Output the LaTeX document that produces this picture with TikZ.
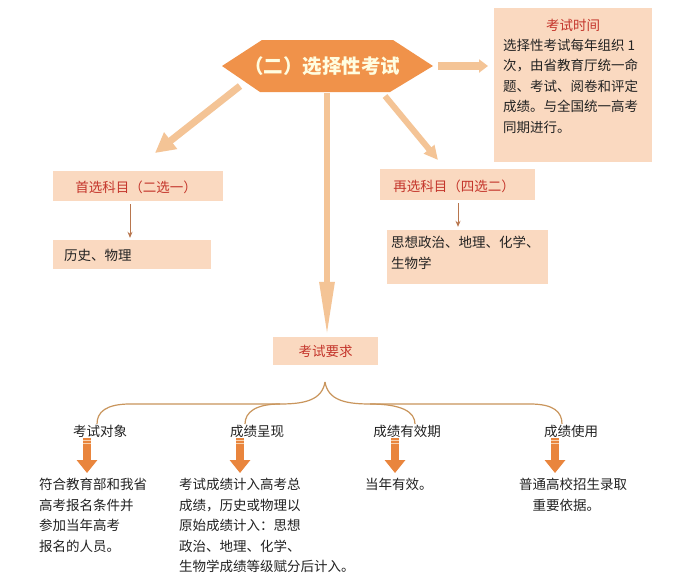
\documentclass[tikz,border=0pt]{standalone}
\usepackage{fontspec}
\setmainfont{Noto Sans CJK SC}
\usetikzlibrary{arrows.meta,calc}
\definecolor{hexorange}{HTML}{F0924A}
\definecolor{boxpeach}{HTML}{FAD9C0}
\definecolor{redtxt}{HTML}{C4352B}
\definecolor{dotarrow}{HTML}{F4C496}
\definecolor{bracec}{HTML}{C9955C}
\definecolor{thinarrow}{HTML}{B8764E}
\definecolor{fatorange}{HTML}{E9853D}
\definecolor{stripe}{HTML}{F8D2AE}
\definecolor{bodytxt}{HTML}{222222}
\begin{document}
\begin{tikzpicture}[x=1pt,y=-1pt,
  every node/.style={inner sep=0pt, text=bodytxt},
  body/.style={font=\fontsize{13.5}{20.5}\selectfont, align=left},
  pbox/.style={fill=boxpeach, inner sep=0pt},
  redlab/.style={text=redtxt, font=\fontsize{13.5}{16}\selectfont},
  dotarr/.style={draw=dotarrow, line width=7pt},
  thinarr/.style={draw=thinarrow, line width=0.9pt, -{Stealth[length=6pt,width=5pt]}},
  fatarr/.style={draw=fatorange, line width=8pt, -{Triangle[width=20pt,length=13pt]}},
  bracepath/.style={draw=bracec, line width=1.2pt},
  lab/.style={font=\fontsize{13.5}{16}\selectfont}
]
\useasboundingbox (0,0) rectangle (698,584);
\fill[white] (0,0) rectangle (698,584);

% hexagon title
\fill[hexorange] (222,66) -- (262,40) -- (393,40) -- (433,66) -- (390,92) -- (260,92) -- cycle;
\node[text=white!88!yellow, font=\fontsize{19.5}{22}\bfseries] (title) at (322,66) {（二）选择性考试};
\coordinate (hR) at (438,66);
\coordinate (hL) at (240,86);
\coordinate (hB) at (327,93);
\coordinate (hD) at (385,96);

% time box
\node[pbox, minimum width=158pt, minimum height=154pt, anchor=north west] (tb) at (494,8) {};
\node[redlab] (tbt) at (573,25) {考试时间};
\node[body, anchor=north west] (tbb) at (503,38.5) {选择性考试每年组织 1\\次，由省教育厅统一命\\题、考试、阅卷和评定\\成绩。与全国统一高考\\同期进行。};

% left branch
\node[pbox, minimum width=170pt, minimum height=30pt] (s1) at (138,186) {};
\node[redlab] (s1t) at (136,187) {首选科目（二选一）};
\node[pbox, minimum width=158pt, minimum height=29pt] (s1c) at (132,254.5) {};
\node[body, anchor=west] (s1ct) at (64,255) {历史、物理};

% right branch
\node[pbox, minimum width=155pt, minimum height=31pt] (s2) at (457.5,184.5) {};
\node[redlab] (s2t) at (454,186) {再选科目（四选二）};
\node[pbox, minimum width=161pt, minimum height=54pt] (s2c) at (467.5,257) {};
\node[body, anchor=north west] (s2ct) at (391,236) {思想政治、地理、化学、\\生物学};

% requirement box
\node[pbox, minimum width=105pt, minimum height=28pt] (req) at (325.5,351) {};
\node[redlab] (reqt) at (325.5,351) {考试要求};

% dotted arrows from title
\coordinate (e1) at (155,153);
\coordinate (e3) at (438,160);
\draw[dotarr, -{Triangle[width=20pt,length=20pt]}] (hL) -- (e1);
\draw[dotarr, line width=6pt, -{Triangle[width=14pt,length=55pt]}] (hB) -- (req.north -| hB);
\draw[dotarr, line width=6pt, -{Triangle[width=13pt,length=14pt]}] (hD) -- (e3);
\draw[dotarr, line width=8pt, -{Triangle[width=13pt,length=9pt]}] (hR) -- ([xshift=-6pt]hR -| tb.west);

% thin arrows
\draw[thinarr] ($(s1.south)+(-8,3)$) -- ($(s1c.north)+(-2,-2)$);
\draw[thinarr] ($(s2.south)+(0.5,3)$) -- ($(s2c.north)+(-9.5,-3)$);

% sub labels
\node[lab] (L1) at (100,431) {考试对象};
\node[lab] (L2) at (257,431) {成绩呈现};
\node[lab] (L3) at (407,431) {成绩有效期};
\node[lab] (L4) at (571,431) {成绩使用};

% brace
\coordinate (apex) at (325,382);
\coordinate (b1) at (97,424);
\coordinate (b2) at (245,424);
\coordinate (b3) at (415,424);
\coordinate (b4) at (562,424);
\draw[bracepath] (apex) .. controls (322,400) and (305,404) .. (280,404) -- (130,404) .. controls (106,404) and (97,412) .. (b1);
\draw[bracepath] (280,404) .. controls (256,404) and (245,412) .. (b2);
\draw[bracepath] (apex) .. controls (328,400) and (345,404) .. (370,404) -- (530,404) .. controls (554,404) and (562,412) .. (b4);
\draw[bracepath] (370,404) .. controls (402,404) and (415,412) .. (b3);

% fat orange arrows
\foreach \n/\x in {1/87,2/240,3/395,4/555}{
  \coordinate (f\n s) at (\x,438);
  \coordinate (f\n e) at (\x,473);
  \draw[fatarr] (f\n s) -- (f\n e);
  \draw[stripe, line width=0.8pt] (\x-4,440.5) -- (\x+4,440.5);
  \draw[stripe, line width=0.8pt] (\x-4,443.5) -- (\x+4,443.5);
}

% bottom texts
\node[body, anchor=north west] (T1) at (39,478) {符合教育部和我省\\高考报名条件并\\参加当年高考\\报名的人员。};
\node[body, anchor=north west] (T2) at (179,478) {考试成绩计入高考总\\成绩，历史或物理以\\原始成绩计入：思想\\政治、地理、化学、\\生物学成绩等级赋分后计入。};
\node[body, anchor=north west] (T3) at (365,478) {当年有效。};
\node[body, anchor=north west] (T4) at (519,478) {普通高校招生录取\\\hspace{13.5pt}重要依据。};
\end{tikzpicture}
\end{document}
